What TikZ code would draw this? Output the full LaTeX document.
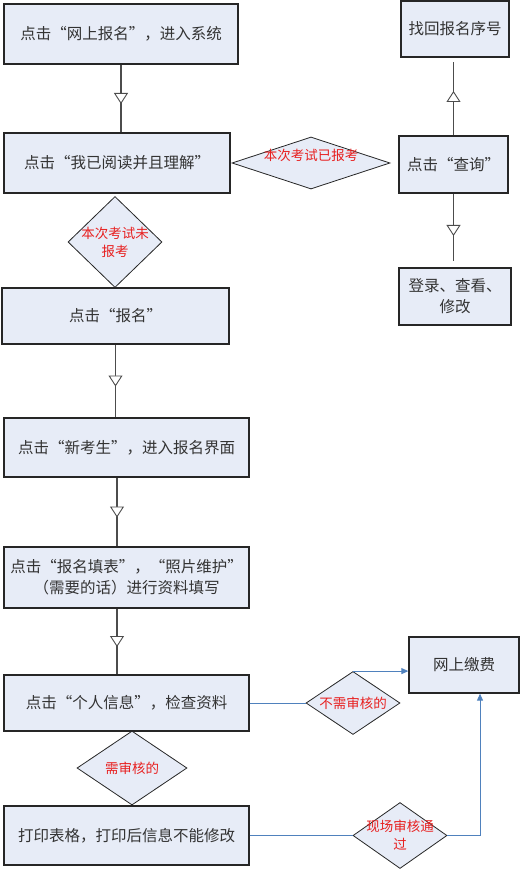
\documentclass[tikz,border=0pt]{standalone}
\usepackage{fontspec}
\setmainfont{Noto Sans CJK SC}[RawFeature=+fwid]
\usepackage{tikz}
\usetikzlibrary{shapes.geometric, positioning, arrows.meta, decorations.markings}
\definecolor{boxfill}{RGB}{231,236,247}
\definecolor{linkblue}{RGB}{79,129,189}
\definecolor{notered}{RGB}{232,32,32}

\begin{document}
\begin{tikzpicture}[x=1pt, y=-1pt,
    box/.style={draw=black!85, fill=boxfill, line width=1.3pt, inner sep=2pt, font=\fontsize{15.5}{21}\selectfont, text=black!80, align=center},
    decision/.style={draw=black!85, fill=boxfill, line width=0.8pt, diamond, inner sep=0pt},
    note/.style={text=notered, font=\fontsize{13.5}{18}\selectfont, align=center},
    flow/.style={draw=black!70, line width=1.1pt, postaction={decorate},
        decoration={markings, mark=at position 0.5 with {\arrow[xshift=5.5pt]{Triangle[fill=white, width=14pt, length=11pt, line width=0.9pt]}}}},
    link/.style={draw=linkblue, line width=0.9pt},
    >={Triangle[length=7pt, width=6pt]}]

\useasboundingbox (0,0) rectangle (520,874);

% Hauptspalte
\node[box, minimum width=234pt, minimum height=60pt] (enter) at (121,34) {点击“网上报名”，进入系统};
\node[box, minimum width=226pt, minimum height=60pt] (read) at (117,163) {点击“我已阅读并且理解”};
\node[decision, minimum width=94pt, minimum height=91pt, label={[note]center:{本次考试未\\报考}}] (notyet) at (115,242) {};
\node[box, minimum width=227pt, minimum height=56pt] (signup) at (115.5,316) {点击“报名”};
\node[box, minimum width=245pt, minimum height=59pt] (newcand) at (126.5,447.5) {点击“新考生”，进入报名界面};
\node[box, minimum width=245pt, minimum height=61pt] (form) at (126.5,577.5) {点击“报名填表”，“照片维护”\\（需要的话）进行资料填写};
\node[box, minimum width=245pt, minimum height=56pt] (check) at (126.5,703) {点击“个人信息”，检查资料};
\node[decision, minimum width=110pt, minimum height=74pt, label={[note]center:需审核的}] (needcheck) at (132,768) {};
\node[box, minimum width=245pt, minimum height=59pt] (print) at (126.5,835.5) {打印表格，打印后信息不能修改};

% Rechte Spalte
\node[decision, minimum width=158pt, minimum height=52pt, label={[note, yshift=8pt]center:本次考试已报考}] (done) at (311,163) {};
\node[box, minimum width=108pt, minimum height=56pt] (findno) at (455,29) {找回报名序号};
\node[box, minimum width=109pt, minimum height=57pt] (query) at (453.5,164.5) {点击“查询”};
\node[box, minimum width=112pt, minimum height=57pt] (login) at (455,296.5) {登录、查看、\\修改};
\node[box, minimum width=110pt, minimum height=56pt] (pay) at (464,665) {网上缴费};
\node[decision, minimum width=94pt, minimum height=63pt, label={[note]center:不需审核的}] (nocheck) at (353,703) {};
\node[decision, minimum width=94pt, minimum height=66pt, label={[note]center:{现场审核通\\过}}] (onsite) at (400,835.5) {};

% Pfeile
\draw[flow] (enter.south) -- (enter.south |- read.north);
\draw[flow] (signup.south) -- (signup.south |- newcand.north);
\draw[flow] ([xshift=-9.5pt]newcand.south) -- ([xshift=-9.5pt]form.north);
\draw[flow] ([xshift=-9.5pt]form.south) -- ([xshift=-9.5pt]check.north);
\draw[flow, shorten >=4pt] (query.north) -- (query.north |- findno.south);
\draw[flow, shorten >=6pt] (query.south) -- (query.south |- login.north);

\draw[link] (check.east) -- (nocheck.west);
\draw[link, ->] (nocheck.north) -- (nocheck.north -| pay.west);
\draw[link] (print.east) -- (onsite.west);
\draw[link, ->] (onsite.east) -| ([xshift=16pt]pay.south);

\end{tikzpicture}
\end{document}
